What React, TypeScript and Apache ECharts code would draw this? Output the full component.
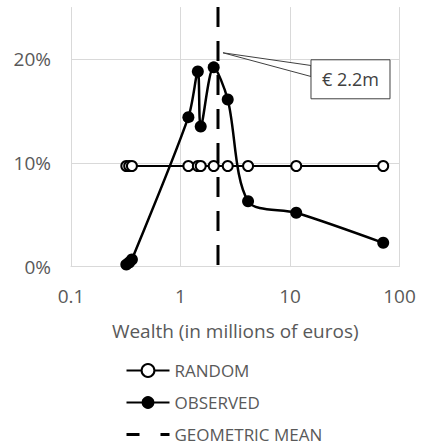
import React, { useEffect, useRef } from "react";
import * as echarts from "echarts";

// Wealth levels (millions of euros), shared by both series
const wealth = [0.32, 0.34, 0.36, 1.18, 1.44, 1.53, 2.01, 2.7, 4.14, 11.4, 71];
// Share of the population (%)
const observed = [0.2, 0.4, 0.7, 14.4, 18.8, 13.5, 19.2, 16.1, 6.3, 5.2, 2.3];
const random = [9.7, 9.7, 9.7, 9.7, 9.7, 9.7, 9.7, 9.7, 9.7, 9.7, 9.7];
const geometricMean = 2.2;
const yTicks = [0, 10, 20];
const yMax = 25;
const calloutY = 20.6;
const seriesNames = ["RANDOM", "OBSERVED", "GEOMETRIC MEAN"];

const FONT = "Open Sans";
const GRAY = "#595959";

export default function App() {
  const ref = useRef<HTMLDivElement>(null);
  useEffect(() => {
    if (!ref.current) return;
    const chart = echarts.init(ref.current, null, { renderer: "svg" });
    const option: any = {
      animation: false,
      backgroundColor: "#fff",
      textStyle: { fontFamily: FONT },
      grid: { left: 71, right: 23.5, top: 7.1, bottom: 181.3 },
      xAxis: {
        type: "log",
        logBase: 10,
        min: 0.1,
        max: 100,
        name: "Wealth (in millions of euros)",
        nameLocation: "middle",
        nameGap: 55,
        nameTextStyle: { color: GRAY, fontSize: 19, fontFamily: FONT },
        axisLine: { show: true, lineStyle: { color: "#d9d9d9", width: 1 } },
        axisTick: { show: false },
        axisLabel: { color: GRAY, fontSize: 19, margin: 20, fontFamily: FONT },
        splitLine: { show: true, lineStyle: { color: "#d9d9d9", width: 1 } },
      },
      yAxis: {
        type: "value",
        min: 0,
        max: yMax,
        interval: 10,
        axisLine: { show: false },
        axisTick: { show: false },
        axisLabel: {
          color: GRAY,
          fontSize: 19,
          margin: 20,
          fontFamily: FONT,
          showMaxLabel: false,
          formatter: (v: number) => (yTicks.includes(v) ? `${v}%` : ""),
        },
        splitLine: {
          show: true,
          showMaxLine: false,
          lineStyle: { color: "#d9d9d9", width: 1 },
        },
      },
      legend: {
        orient: "vertical",
        left: 125,
        top: 362,
        padding: 0,
        itemWidth: 43,
        itemHeight: 16,
        itemGap: 15,
        textStyle: { color: GRAY, fontSize: 17, fontFamily: FONT },
        data: [
          { name: seriesNames[0] },
          { name: seriesNames[1] },
          {
            name: seriesNames[2],
            lineStyle: { type: [13, 21], width: 3 },
            itemStyle: { opacity: 0 },
          },
        ],
      },
      series: [
        {
          name: seriesNames[0],
          type: "line",
          data: wealth.map((x, i) => [x, random[i]]),
          symbol: "emptyCircle",
          symbolSize: 10,
          lineStyle: { color: "#000", width: 2 },
          itemStyle: { color: "#000", borderColor: "#000", borderWidth: 2 },
          z: 3,
        },
        {
          name: seriesNames[1],
          type: "line",
          data: wealth.map((x, i) => [x, observed[i]]),
          symbol: "circle",
          symbolSize: 12,
          smooth: 0.3,
          lineStyle: { color: "#000", width: 2.5 },
          itemStyle: { color: "#000" },
          z: 4,
        },
        {
          name: seriesNames[2],
          type: "line",
          data: [
            [geometricMean, yMax],
            [geometricMean, 0],
          ],
          symbol: "none",
          lineStyle: { color: "#000", width: 3, type: [20, 14] },
          itemStyle: { color: "#000" },
          z: 5,
        },
      ],
    };
    chart.setOption(option);

    const p = chart.convertToPixel({ gridIndex: 0 }, [geometricMean, calloutY]) as number[];
    const tipX = p[0] + 5;
    const tipY = p[1];
    const boxL = tipX + 88;
    const boxT = tipY + 7;
    const boxW = 79;
    const boxH = 39;
    chart.setOption({
      graphic: [
        {
          type: "polygon",
          z: 100,
          shape: {
            points: [
              [tipX, tipY],
              [boxL, tipY + 12.7],
              [boxL, tipY + 23.7],
            ],
          },
          style: { fill: "#fff", stroke: "#404040", lineWidth: 1 },
        },
        {
          type: "rect",
          z: 101,
          shape: { x: boxL, y: boxT, width: boxW, height: boxH },
          style: { fill: "#fff", stroke: "#404040", lineWidth: 1 },
        },
        {
          type: "text",
          z: 102,
          x: boxL + boxW / 2,
          y: boxT + boxH / 2,
          style: {
            text: `€ ${geometricMean}m`,
            fill: "#404040",
            fontSize: 18,
            fontFamily: FONT,
            align: "center",
            verticalAlign: "middle",
          },
        },
      ],
    });

    return () => chart.dispose();
  }, []);
  return (
    <div
      ref={ref}
      style={{ position: "fixed", left: 0, top: 0, width: 423, height: 448 }}
    />
  );
}
